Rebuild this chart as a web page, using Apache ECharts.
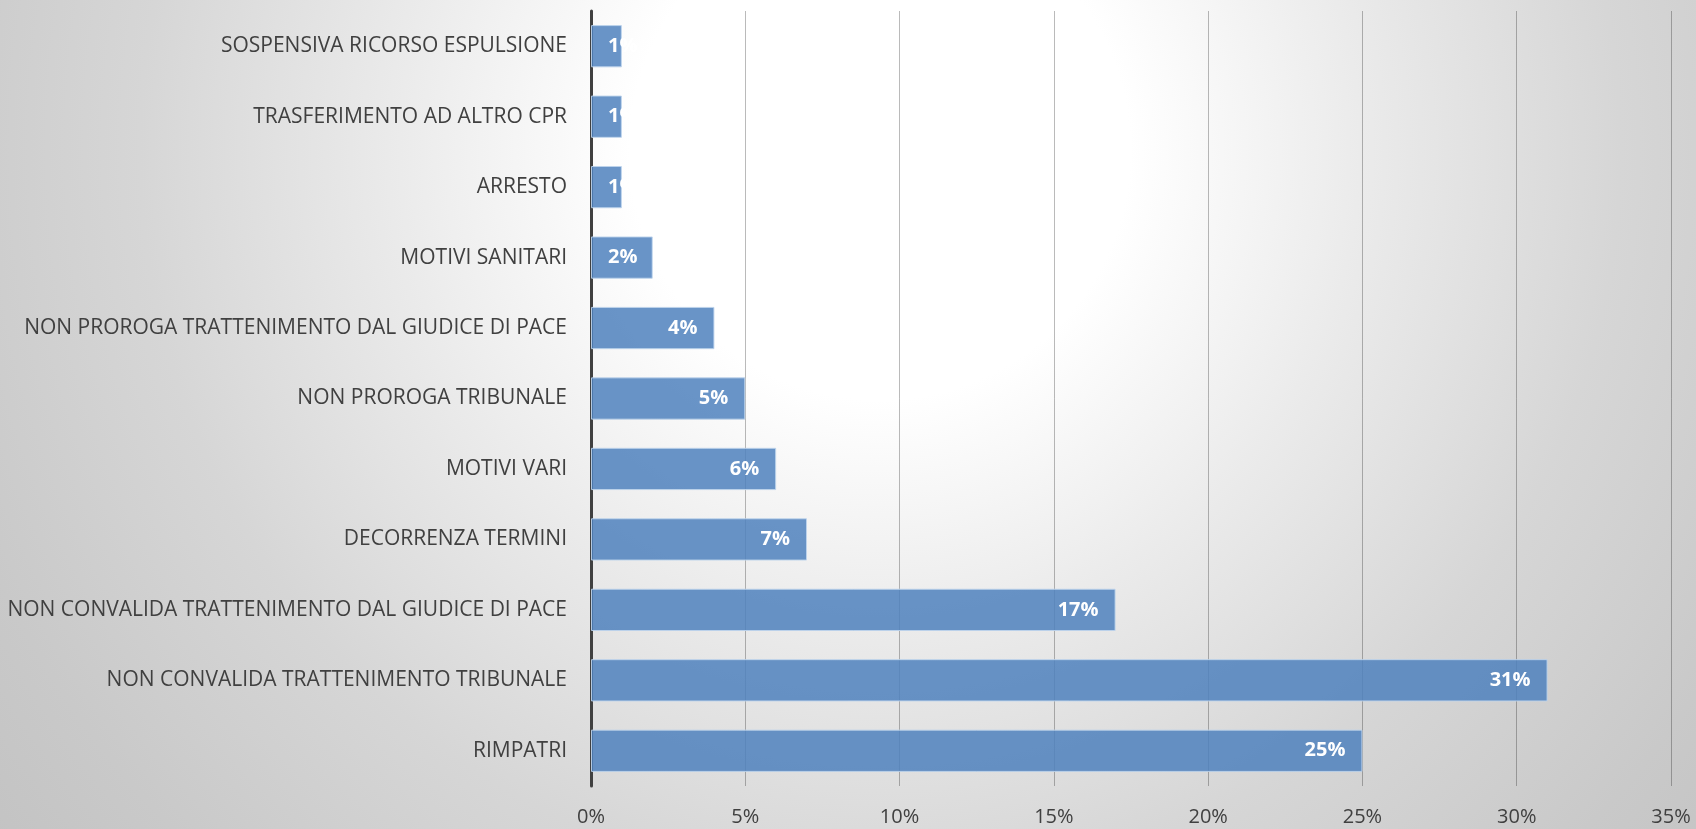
<!DOCTYPE html>
<html>
<head>
<meta charset="utf-8">
<script src="https://cdn.jsdelivr.net/npm/echarts@6/dist/echarts.min.js"></script>
<style>
html,body{margin:0;padding:0;width:1696px;height:829px;overflow:hidden;}
#chart{width:1696px;height:829px;background:radial-gradient(circle at 880px 150px,#ffffff 0px,#ffffff 250px,#ebebeb 480px,#d6d6d6 740px,#c9c9c9 980px,#c2c2c2 1150px);}
</style>
</head>
<body>
<div id="chart"></div>
<script>
// Categories listed top to bottom
const categories = [
  "SOSPENSIVA RICORSO ESPULSIONE",
  "TRASFERIMENTO AD ALTRO CPR",
  "ARRESTO",
  "MOTIVI SANITARI",
  "NON PROROGA TRATTENIMENTO DAL GIUDICE DI PACE",
  "NON PROROGA TRIBUNALE",
  "MOTIVI VARI",
  "DECORRENZA TERMINI",
  "NON CONVALIDA TRATTENIMENTO DAL GIUDICE DI PACE",
  "NON CONVALIDA TRATTENIMENTO TRIBUNALE",
  "RIMPATRI"
];
const values = [1, 1, 1, 2, 4, 5, 6, 7, 17, 31, 25];
const xTicks = [0, 5, 10, 15, 20, 25, 30, 35];

const chart = echarts.init(document.getElementById('chart'));
const font = "'Open Sans', 'Noto Sans', sans-serif";
chart.setOption({
  backgroundColor: 'transparent',
  animation: false,
  grid: { left: 591, right: 25, top: 11, bottom: 43, containLabel: false },
  xAxis: {
    type: 'value',
    min: xTicks[0],
    max: xTicks[xTicks.length - 1],
    interval: 5,
    axisLine: { show: false },
    axisTick: { show: false },
    splitLine: { show: true, lineStyle: { color: 'rgba(0,0,0,0.27)', width: 1 } },
    axisLabel: {
      formatter: '{value}%',
      color: '#404040',
      fontFamily: font,
      fontSize: 20,
      margin: 21
    }
  },
  yAxis: {
    type: 'category',
    inverse: true,
    data: categories,
    axisLine: { show: true, lineStyle: { color: '#404040', width: 3 } },
    axisTick: { show: false },
    axisLabel: {
      color: '#404040',
      fontFamily: font,
      fontSize: 21,
      margin: 24
    }
  },
  series: [{
    type: 'bar',
    data: values.map(v => ({
      value: v,
      label: v <= 2 ? { position: 'insideLeft', distance: 17 } : { position: 'insideRight', distance: 17 }
    })),
    barCategoryGap: '40%',
    itemStyle: {
      color: 'rgba(79,129,189,0.85)',
      borderColor: 'rgba(190,212,236,0.9)',
      borderWidth: 1
    },
    label: {
      show: true,
      formatter: '{c}%',
      color: '#ffffff',
      fontFamily: font,
      fontWeight: 'bold',
      fontSize: 20
    }
  }]
});
</script>
</body>
</html>
